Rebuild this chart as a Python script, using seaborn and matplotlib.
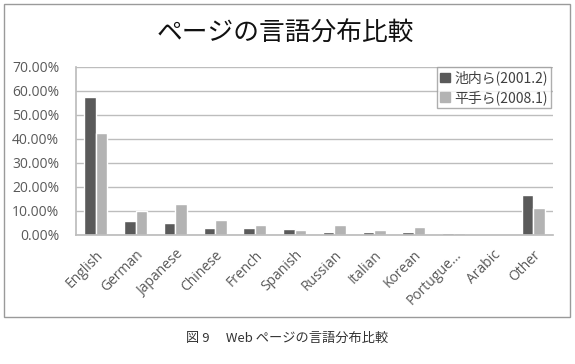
import matplotlib
matplotlib.use("Agg")
import matplotlib.pyplot as plt
import matplotlib.patches as mpatches
import seaborn as sns
import pandas as pd
from matplotlib.ticker import PercentFormatter

categories = ["English", "German", "Japanese", "Chinese", "French", "Spanish",
              "Russian", "Italian", "Korean", "Portugue...", "Arabic", "Other"]
series_names = ["池内ら(2001.2)", "平手ら(2008.1)"]
ikeuchi_2001 = [57.7, 6.0, 5.0, 2.9, 2.9, 2.5, 1.4, 1.2, 1.2, 0.9, 0.0, 16.6]
hirate_2008 = [42.7, 10.0, 13.0, 6.2, 4.0, 2.2, 4.0, 1.9, 3.4, 0.8, 0.0, 11.2]
y_ticks = [0, 10, 20, 30, 40, 50, 60, 70]

df = pd.DataFrame({
    "lang": categories * 2,
    "series": [series_names[0]] * len(categories) + [series_names[1]] * len(categories),
    "value": ikeuchi_2001 + hirate_2008,
})

sns.set_theme(style="white")
plt.rcParams["font.family"] = ["Open Sans", "Noto Sans CJK JP", "DejaVu Sans"]

fig = plt.figure(figsize=(5.75, 3.64), dpi=100)
fig.patch.set_facecolor("white")

# outer chart frame
frame = mpatches.Rectangle((4 / 575, 1 - 317 / 364), 566 / 575, 313 / 364,
                           transform=fig.transFigure, fill=False,
                           edgecolor="#9a9a9a", linewidth=1.0)
fig.patches.append(frame)

ax = fig.add_axes([76 / 575, 1 - 235 / 364, 477 / 575, 168 / 364])
palette = {series_names[0]: "#5a5a5a", series_names[1]: "#b3b3b3"}
sns.barplot(data=df, x="lang", y="value", hue="series", palette=palette,
            width=0.58, ax=ax, saturation=1, legend=False)

ax.set_ylim(0, 70)
ax.set_yticks(y_ticks)
ax.yaxis.set_major_formatter(PercentFormatter(decimals=2))
ax.set_xlim(-0.5, len(categories) - 0.5)
ax.grid(axis="y", color="#bdbdbd", linewidth=1.0)
ax.set_axisbelow(True)
for s in ["top", "right"]:
    ax.spines[s].set_visible(False)
ax.spines["left"].set_color("#bdbdbd")
ax.spines["bottom"].set_color("#bdbdbd")
ax.set_xlabel("")
ax.set_ylabel("")
ax.tick_params(axis="y", labelsize=10, colors="#595959", length=0, pad=12)
ax.tick_params(axis="x", labelsize=10, colors="#595959", length=0, pad=9)
plt.setp(ax.get_xticklabels(), rotation=45, ha="right", rotation_mode="anchor")
for lbl in ax.get_yticklabels():
    lbl.set_color("#595959")

handles = [mpatches.Patch(color=palette[n], label=n) for n in series_names]
leg = fig.legend(handles=handles, loc="upper left",
                 bbox_to_anchor=(437 / 575, 1 - 67 / 364), frameon=True,
                 handlelength=0.7, handleheight=0.7,
                 handletextpad=0.3, borderpad=0.25, labelspacing=0.35,
                 borderaxespad=0, fancybox=False,
                 prop={"family": ["Noto Sans CJK JP", "DejaVu Sans"], "size": 10})
leg.get_frame().set_edgecolor("#9a9a9a")
leg.get_frame().set_linewidth(1.0)
for t in leg.get_texts():
    t.set_color("#404040")

fig.text(0.497, 1 - 34 / 364, "ページの言語分布比較", ha="center", va="center",
         fontsize=18.5, color="#111111",
         family=["Noto Sans CJK JP", "DejaVu Sans"])

fig.text(287 / 575, 1 - 338 / 364, "図 9　 Web ページの言語分布比較", ha="center",
         va="center", fontsize=9.5, color="#333333",
         family=["Noto Sans CJK JP", "DejaVu Sans"])

fig.savefig("out.png", dpi=100, facecolor="white")
